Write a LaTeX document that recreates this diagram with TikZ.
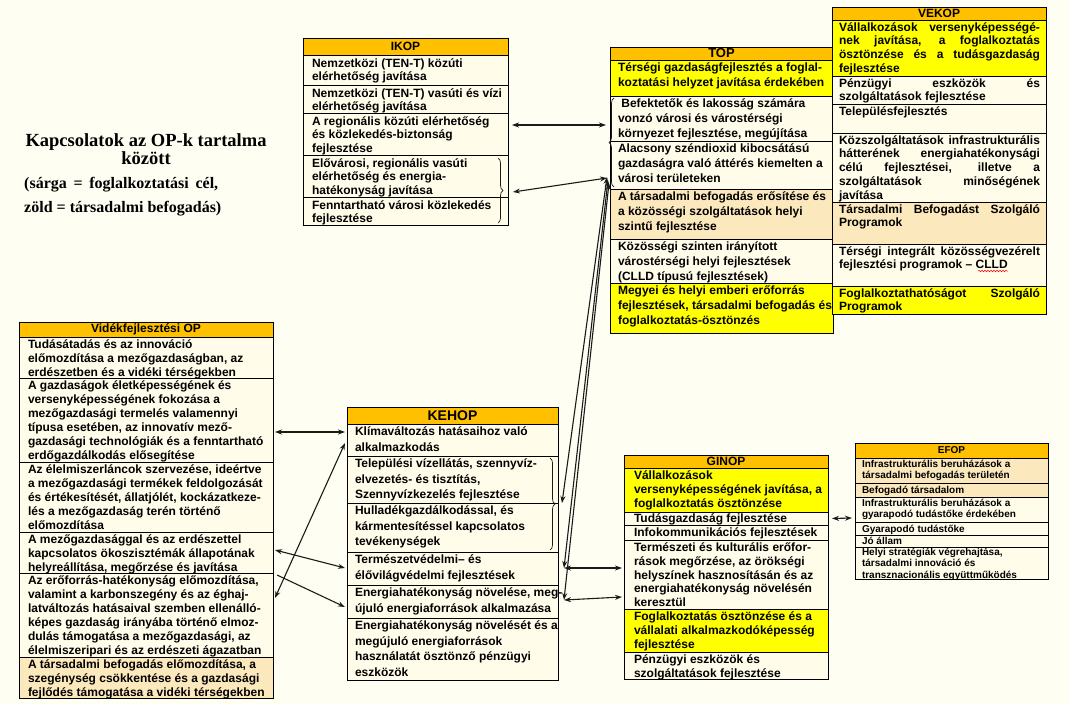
\documentclass[tikz,border=0pt]{standalone}
\usepackage{fontspec}
\setmainfont{Liberation Sans}
\newfontfamily\serifb{Liberation Serif}
\usetikzlibrary{arrows.meta,calc,decorations.pathreplacing,decorations.pathmorphing}
\definecolor{bg}{HTML}{FFFEF2}
\definecolor{cream}{HTML}{FFFCE9}
\definecolor{hdr}{HTML}{FFC000}
\definecolor{lor}{HTML}{FCE8BD}
\definecolor{yel}{HTML}{FFFF00}
\definecolor{ink}{HTML}{1A1A1A}
\def\bsk{13.8}\def\fsz{12}
\newcommand{\otfont}{\fontsize{\fsz}{\bsk}\selectfont\bfseries}
\newcommand{\ohfont}{\fontsize{12}{14}\selectfont\bfseries}
\newcommand{\tx}[1]{\begin{tabular}[t]{@{}l@{}}#1\end{tabular}}
\newcommand{\jst}[2]{\makebox[#1pt][s]{#2}}
\newcommand{\orow}[6][\off]{%
  \pgfmathsetmacro{\hh}{#4-#3}%
  \node[cell, fill=#5, minimum width=\bw pt, minimum height=\hh pt, anchor=north west] (#2) at (\bx,#3) {};%
  \node[txt, anchor=base west] (#2t) at ([xshift=\pad pt, yshift=-#1 pt]#2.north west) {\tx{#6}};%
}
\newcommand{\ohdr}[4]{%
  \pgfmathsetmacro{\hh}{#3-#2}%
  \node[cell, fill=hdr, minimum width=\bw pt, minimum height=\hh pt, anchor=north west, font=\ohfont] (#1) at (\bx,#2) {#4};%
}
\begin{document}
\begin{tikzpicture}[x=1pt,y=-1pt,
  cell/.style={draw=black,line width=0.7pt,inner sep=0pt,outer sep=0pt},
  txt/.style={inner sep=0pt,outer sep=0pt,font=\otfont},
  arr/.style={draw=ink,line width=1.1pt,-{Stealth[length=7pt,width=5pt]}},
  darr/.style={draw=ink,line width=1.1pt,{Stealth[length=7pt,width=5pt]}-{Stealth[length=7pt,width=5pt]}},
  brc/.style={draw=ink,line width=0.7pt,decorate,decoration={brace,amplitude=5pt}}]
\fill[bg] (0,0) rectangle (1070,704);
\useasboundingbox (0,0) rectangle (1070,704);

% title
\node[anchor=base, inner sep=0pt, font=\serifb\bfseries\fontsize{18.5}{18}\selectfont] (title) at (146,146)
  {\begin{tabular}[t]{@{}c@{}}Kapcsolatok az OP-k tartalma\\között\end{tabular}};
\node[anchor=base west, inner sep=0pt, font=\serifb\bfseries\fontsize{16}{24}\selectfont] (sub) at (24,188)
  {\begin{tabular}[t]{@{}l@{}}\makebox[194pt][s]{(sárga = foglalkoztatási cél,}\\zöld = társadalmi befogadás)\end{tabular}};

% IKOP
\def\bx{303}\def\bw{205}\def\pad{9}\def\off{12.5}\def\bsk{13.3}
\ohdr{ikop}{38}{55}{IKOP}
\orow{ikop1}{55}{85}{cream}{Nemzetközi (TEN-T) közúti\\elérhetőség javítása}
\orow{ikop2}{85}{113}{cream}{Nemzetközi (TEN-T) vasúti és vízi\\elérhetőség javítása}
\orow{ikop3}{113}{155}{cream}{A regionális közúti elérhetőség\\és közlekedés-biztonság\\fejlesztése}
\orow{ikop4}{155}{197}{cream}{Elővárosi, regionális vasúti\\elérhetőség és energia-\\hatékonyság javítása}
\orow{ikop5}{197}{225}{cream}{Fenntartható városi közlekedés\\fejlesztése}
\draw[brc] ($(ikop4.north east)+(-10,3)$) -- ($(ikop5.south east)+(-10,-2)$);

% TOP
\def\bx{610}\def\bw{223}\def\pad{8}\def\off{11.5}\def\bsk{15}
\renewcommand{\ohfont}{\fontsize{13}{15}\selectfont\bfseries}
\ohdr{top}{47}{60}{TOP}
\orow{top1}{60}{96}{yel}{Térségi gazdaságfejlesztés a foglal-\\koztatási helyzet javítása érdekében}
\orow{top2}{96}{141}{cream}{\ Befektetők és lakosság számára\\vonzó városi és várostérségi\\környezet fejlesztése, megújítása}
\orow{top3}{141}{189}{cream}{Alacsony széndioxid kibocsátású\\gazdaságra való áttérés kiemelten a\\városi területeken}
\orow{top4}{189}{239}{lor}{A társadalmi befogadás erősítése és\\a közösségi szolgáltatások helyi\\szintű fejlesztése}
\orow{top5}{239}{283}{cream}{Közösségi szinten irányított\\várostérségi helyi fejlesztések\\(CLLD típusú fejlesztések)}
\orow{top6}{283}{333}{yel}{Megyei és helyi emberi erőforrás\\fejlesztések, társadalmi befogadás és\\foglalkoztatás-ösztönzés}
\draw[brc] ($(top3.south west)+(4,-2)$) -- ($(top2.north west)+(4,2)$);
\renewcommand{\ohfont}{\fontsize{12}{14}\selectfont\bfseries}

% VEKOP
\def\bx{832}\def\bw{214}\def\pad{7}\def\off{11}\def\bsk{13.8}
\ohdr{vek}{7}{20}{VEKOP}
\orow{vek1}{20}{76}{yel}{\jst{201}{Vállalkozások versenyképességé-}\\\jst{201}{nek javítása, a foglalkoztatás}\\\jst{201}{ösztönzése és a tudásgazdaság}\\fejlesztése}
\orow{vek2}{76}{104}{cream}{\jst{201}{Pénzügyi eszközök és}\\szolgáltatások fejlesztése}
\orow{vek3}{104}{133}{cream}{Településfejlesztés}
\orow{vek4}{133}{202}{cream}{\jst{201}{Közszolgáltatások infrastrukturális}\\\jst{201}{hátterének energiahatékonysági}\\\jst{201}{célú fejlesztései, illetve a}\\\jst{201}{szolgáltatások minőségének}\\javítása}
\orow{vek5}{202}{244}{lor}{\jst{201}{Társadalmi Befogadást Szolgáló}\\Programok}
\orow{vek6}{244}{286}{cream}{\jst{201}{Térségi integrált közösségvezérelt}\\fejlesztési programok – CLLD}
\orow{vek7}{286}{314}{yel}{\jst{201}{Foglalkoztathatóságot Szolgáló}\\Programok}
\draw[red, line width=0.5pt, decorate, decoration={snake, amplitude=0.8pt, segment length=3pt}]
  ($(vek6.north west)+(146,27)$) -- ($(vek6.north west)+(176,27)$);

% Videkfejlesztesi OP
\def\bx{19}\def\bw{254}\def\pad{9}\def\off{11.5}\def\bsk{14}
\ohdr{vp}{322}{337}{Vidékfejlesztési OP}
\orow{vp1}{337}{378}{cream}{Tudásátadás és az innováció\\előmozdítása a mezőgazdaságban, az\\erdészetben és a vidéki térségekben}
\orow{vp2}{378}{462}{cream}{A gazdaságok életképességének és\\versenyképességének fokozása a\\mezőgazdasági termelés valamennyi\\típusa esetében, az innovatív mező-\\gazdasági technológiák és a fenntartható\\erdőgazdálkodás elősegítése}
\orow{vp3}{462}{532}{cream}{Az élelmiszerláncok szervezése, ideértve\\a mezőgazdasági termékek feldolgozását\\és értékesítését, állatjólét, kockázatkeze-\\lés a mezőgazdaság terén történő\\előmozdítása}
\orow{vp4}{532}{573}{cream}{A mezőgazdasággal és az erdészettel\\kapcsolatos ökoszisztémák állapotának\\helyreállítása, megőrzése és javítása}
\orow{vp5}{573}{657}{cream}{Az erőforrás-hatékonyság előmozdítása,\\valamint a karbonszegény és az éghaj-\\latváltozás hatásaival szemben ellenálló-\\képes gazdaság irányába történő elmoz-\\dulás támogatása a mezőgazdasági, az\\élelmiszeripari és az erdészeti ágazatban}
\orow{vp6}{657}{698}{lor}{A társadalmi befogadás előmozdítása, a\\szegénység csökkentése és a gazdasági\\fejlődés támogatása a vidéki térségekben}

% KEHOP
\def\bx{347}\def\bw{211}\def\pad{8}\def\off{11.5}\def\bsk{15.5}
\renewcommand{\ohfont}{\fontsize{14}{16}\selectfont\bfseries}
\ohdr{keh}{407}{424}{KEHOP}
\renewcommand{\ohfont}{\fontsize{12}{14}\selectfont\bfseries}
\orow{keh1}{424}{456}{cream}{Klímaváltozás hatásaihoz való\\alkalmazkodás}
\orow{keh2}{456}{503}{cream}{Települési vízellátás, szennyvíz-\\elvezetés- és tisztítás,\\Szennyvízkezelés fejlesztése}
\orow{keh3}{503}{552}{cream}{Hulladékgazdálkodással, és\\kármentesítéssel kapcsolatos\\tevékenységek}
\orow{keh4}{552}{585}{cream}{Természetvédelmi– és\\élővilágvédelmi fejlesztések}
\orow{keh5}{585}{618}{cream}{Energiahatékonyság növelése, meg-\\újuló energiaforrások alkalmazása}
\orow{keh6}{618}{680}{cream}{Energiahatékonyság növelését és a\\megújuló energiaforrások\\használatát ösztönző pénzügyi\\eszközök}
\draw[brc] ($(keh2.north east)+(-8,2)$) -- ($(keh3.south east)+(-8,-2)$);

% GINOP
\def\bx{624}\def\bw{204}\def\pad{10}\def\off{11.5}\def\bsk{13.8}
\ohdr{gin}{455}{468}{GINOP}
\orow{gin1}{468}{512}{yel}{Vállalkozások\\versenyképességének javítása, a\\foglalkoztatás ösztönzése}
\orow[10.5]{gin2}{512}{525}{cream}{Tudásgazdaság fejlesztése}
\orow[11]{gin3}{525}{540}{cream}{Infokommunikációs fejlesztések}
\orow{gin4}{540}{609}{cream}{Természeti és kulturális erőfor-\\rások megőrzése, az örökségi\\helyszínek hasznosításán és az\\energiahatékonyság növelésén\\keresztül}
\orow{gin5}{609}{652}{yel}{Foglalkoztatás ösztönzése és a\\vállalati alkalmazkodóképesség\\fejlesztése}
\orow{gin6}{652}{679}{cream}{Pénzügyi eszközök és\\szolgáltatások fejlesztése}

% EFOP
\def\bx{855}\def\bw{193}\def\pad{7}\def\off{9.5}\def\bsk{11.3}\def\fsz{10}
\renewcommand{\ohfont}{\fontsize{10}{12}\selectfont\bfseries}
\ohdr{efop}{443}{458}{EFOP}
\orow{ef1}{458}{483}{lor}{Infrastrukturális beruházások a\\társadalmi befogadás területén}
\orow[10]{ef2}{483}{497}{lor}{Befogadó társadalom}
\orow{ef3}{497}{522}{cream}{Infrastrukturális beruházások a\\gyarapodó tudástőke érdekében}
\orow[10]{ef4}{522}{535}{cream}{Gyarapodó tudástőke}
\orow[9]{ef5}{535}{547}{cream}{Jó állam}
\orow[8.5]{ef6}{547}{579}{cream}{Helyi stratégiák végrehajtása,\\társadalmi innováció és\\transznacionális együttműködés}

% connectors
\draw[darr] ($(ikop3.north east)+(4,12)$) -- ($(top2.north west)+(-4,29)$);
\draw[darr] ($(ikop4.north east)+(5,37)$) -- ($(top3.south west)+(-3,-11)$);
\draw[darr] ($(keh2.south east)+(4,0)$) -- ($(top3.south west)+(-3,-12)$);
\draw[darr] ($(keh4.north east)+(6,16)$) -- ($(top3.south west)+(-2,-9)$);
\draw[darr] ($(keh5.north east)+(6,15)$) -- ($(top3.south west)+(-1,-6)$);
\draw[darr] ($(keh4.north east)+(6,16)$) -- ($(gin4.north west)+(-2,28)$);
\draw[darr] ($(keh5.north east)+(6,15)$) -- ($(gin4.south west)+(-2,-12)$);
\draw[darr] ($(gin2.east)+(4,0)$) -- ($(ef3.south west)+(-3,-4)$);
\draw[darr] ($(vp2.north east)+(2,54)$) -- ($(keh1.north west)+(-2,8)$);
\draw[darr] ($(vp5.north east)+(2,25)$) -- ($(keh1.north west)+(-2,19)$);
\draw[darr] ($(vp4.north east)+(2,18)$) -- ($(keh4.north west)+(-2,16)$);
\draw[arr] ($(vp5.north east)+(4,2)$) -- ($(keh5.north west)+(-2,22)$);
\end{tikzpicture}
\end{document}
